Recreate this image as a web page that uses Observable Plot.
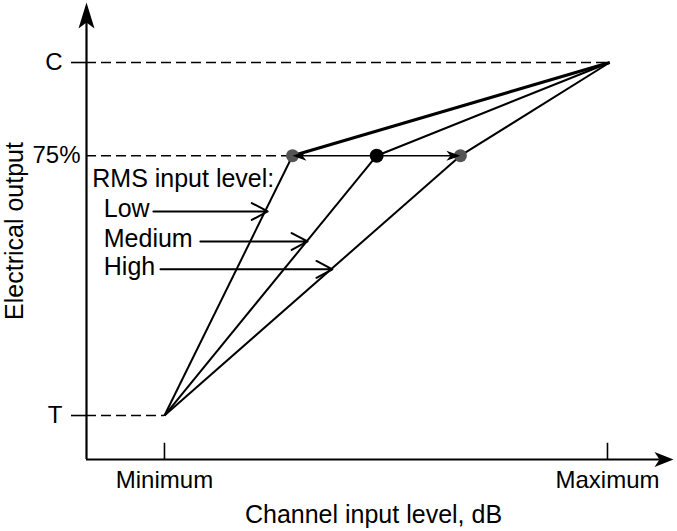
<!DOCTYPE html>
<html><head><meta charset="utf-8">
<script src="https://cdn.jsdelivr.net/npm/d3@7"></script>
<script src="https://cdn.jsdelivr.net/npm/@observablehq/plot@0.6"></script>
<style>body{margin:0;background:#fff}</style>
</head><body><div id="chart"></div>
<script>
// ---- data (schematic values) ----
const xTickValues = [0, 100];
const xTickLabels = ["Minimum", "Maximum"];
const yTickValues = [0, 73.6, 100];
const yTickLabels = ["T", "75%", "C"];
const threshold = [0, 0];        // T at Minimum input
const ceiling = [100.5, 100];    // C at Maximum input
const rmsLevels = ["Low", "Medium", "High"];
const kneeX = [28.9, 47.9, 66.8];
const kneeY = 73.6;
const labelArrowStart = [-2.5, 8.1, -0.9];
const labelArrowEnd = [23.3, 32.3, 37.9];
const labelArrowY = [57.8, 49.3, 41.4];
const labelX = -13.7;
const legendTitle = "RMS input level:";
const legendTitlePos = [-16.3, 66.9];
const xTitle = "Channel input level, dB";
const yTitle = "Electrical output";
const xDomain = [-17.6, 114.9];
const yDomain = [-12.46, 117];

// ---- derived tables ----
const levels = rmsLevels.map((name, i) => ({name, kx: kneeX[i], ky: kneeY,
  ax1: labelArrowStart[i], ax2: labelArrowEnd[i], ay: labelArrowY[i]}));
const yLabel = d => yTickLabels[yTickValues.indexOf(d)];
const xLabel = d => xTickLabels[xTickValues.indexOf(d)];

// arrowhead symbols
const arrowUp = {draw(c){c.moveTo(0,0);c.lineTo(8,26);c.lineTo(0,20);c.lineTo(-8,26);c.closePath();}};
const arrowRight = {draw(c){c.moveTo(0,0);c.lineTo(-19,-7.5);c.lineTo(-14,0);c.lineTo(-19,7.5);c.closePath();}};
const headLeft = {draw(c){c.moveTo(0,0);c.lineTo(14,-5);c.lineTo(10,0);c.lineTo(14,5);c.closePath();}};
const headRight = {draw(c){c.moveTo(0,0);c.lineTo(-14,-5);c.lineTo(-10,0);c.lineTo(-14,5);c.closePath();}};

const dash = "10,5";
const plot = Plot.plot({
  width: 677, height: 531,
  marginLeft: 86, marginRight: 4, marginTop: 2, marginBottom: 72,
  x: {domain: xDomain},
  y: {domain: yDomain},
  style: {fontFamily: "'Liberation Sans', Arial, sans-serif", color: "black", background: "white"},
  marks: [
    // dashed guide lines
    Plot.ruleY([yTickValues[2]], {y: d => d, x1: xDomain[0], x2: ceiling[0], strokeDasharray: dash, strokeWidth: 1.6}),
    Plot.ruleY([yTickValues[1]], {y: d => d, x1: xDomain[0], x2: kneeX[0], strokeDasharray: dash, strokeWidth: 1.6}),
    Plot.ruleY([yTickValues[0]], {y: d => d, x1: xDomain[0], x2: threshold[0], strokeDasharray: dash, strokeWidth: 1.6}),
    // axes lines
    Plot.ruleX([xDomain[0]], {x: d => d, y1: yDomain[0], y2: yDomain[1] - 3, strokeWidth: 2.2}),
    Plot.ruleY([yDomain[0]], {y: d => d, x1: xDomain[0], x2: xDomain[1] - 3, strokeWidth: 2.2}),
    Plot.dot([[xDomain[0], yDomain[1]]], {x: d => d[0], y: d => d[1], symbol: arrowUp, fill: "black", stroke: "none"}),
    Plot.dot([[xDomain[1], yDomain[0]]], {x: d => d[0], y: d => d[1], symbol: arrowRight, fill: "black", stroke: "none"}),
    // axis ticks & labels
    Plot.ruleX(xTickValues, {x: d => d, y1: yDomain[0], y2: yDomain[0] + 4.6, strokeWidth: 1.6}),
    Plot.axisX(xTickValues, {tickSize: 0, tickPadding: 11, tickFormat: xLabel, fontSize: 24, label: null}),
    Plot.axisY([yTickValues[0], yTickValues[2]], {tickSize: 15, tickPadding: 9, tickFormat: yLabel, fontSize: 24, strokeWidth: 1.6, label: null}),
    Plot.axisY([yTickValues[1]], {tickSize: 0, tickPadding: 6, tickFormat: yLabel, fontSize: 24, label: null}),
    // curves: threshold -> knee -> ceiling
    Plot.link(levels, {x1: threshold[0], y1: threshold[1], x2: "kx", y2: "ky", strokeWidth: 2}),
    Plot.link(levels, {x1: "kx", y1: "ky", x2: ceiling[0], y2: ceiling[1], strokeWidth: (d, i) => i === 0 ? 3.2 : 2}),
    // knee shift arrow
    Plot.link([levels[0], levels[2]], {x1: levels[1].kx, y1: kneeY, x2: "kx", y2: "ky", strokeWidth: 1.6}),
    Plot.dot([levels[0], levels[2]], {x: "kx", y: "ky", r: 6.5, fill: "#555", stroke: "none"}),
    Plot.dot([levels[1]], {x: "kx", y: "ky", r: 7, fill: "black", stroke: "none"}),
    Plot.dot([levels[0]], {x: "kx", y: "ky", symbol: headLeft, fill: "black", stroke: "none"}),
    Plot.dot([levels[2]], {x: "kx", y: "ky", symbol: headRight, fill: "black", stroke: "none"}),
    // annotation
    Plot.text([legendTitle], {x: legendTitlePos[0], y: legendTitlePos[1], text: d => d, textAnchor: "start", fontSize: 25}),
    Plot.text(levels, {x: labelX, y: "ay", text: "name", textAnchor: "start", dy: -2, fontSize: 25}),
    Plot.arrow(levels, {x1: "ax1", y1: "ay", x2: "ax2", y2: "ay", strokeWidth: 2, headLength: 13.5, headAngle: 56}),
    // titles
    Plot.text([xTitle], {frameAnchor: "bottom", text: d => d, textAnchor: "middle", lineAnchor: "middle", dy: 55, dx: -6.5, fontSize: 25}),
    Plot.text([yTitle], {frameAnchor: "left", text: d => d, textAnchor: "middle", lineAnchor: "middle", rotate: -90, dx: -72, fontSize: 25})
  ]
});
document.getElementById("chart").appendChild(plot);
</script>
</body></html>
